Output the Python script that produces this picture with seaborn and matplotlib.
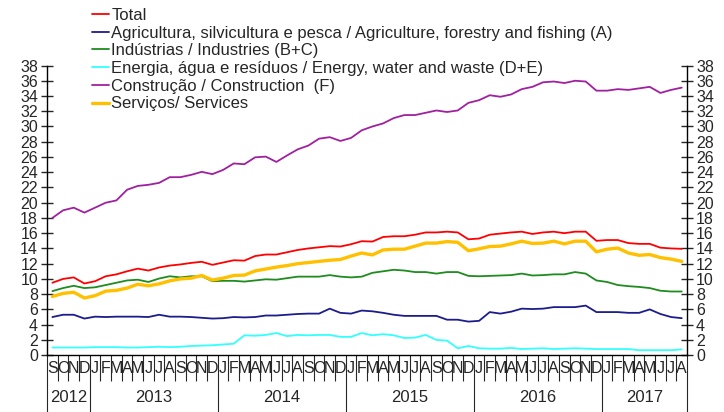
import matplotlib
matplotlib.use("Agg")
import matplotlib.pyplot as plt
import matplotlib.transforms as mtransforms
import numpy as np
import pandas as pd
import seaborn as sns

# monthly series, Sep 2012 .. Aug 2017
month_letters = list("SOND") + list("JFMAMJJASOND") * 4 + list("JFMAMJJA")
years = ["2012", "2013", "2014", "2015", "2016", "2017"]
months_per_year = [4, 12, 12, 12, 12, 8]

total = [9.5, 10.0, 10.2, 9.4, 9.7, 10.35, 10.6, 11.0, 11.35, 11.1, 11.5, 11.75,
         11.9, 12.1, 12.25, 11.85, 12.15, 12.45, 12.4, 13.0, 13.2, 13.2, 13.5, 13.8,
         14.0, 14.15, 14.3, 14.25, 14.55, 14.95, 14.9, 15.5, 15.6, 15.6, 15.8, 16.1,
         16.1, 16.2, 16.1, 15.2, 15.3, 15.8, 15.95, 16.1, 16.2, 15.9, 16.1, 16.2,
         16.0, 16.2, 16.2, 15.0, 15.1, 15.1, 14.7, 14.6, 14.6, 14.1, 14.0, 13.95]
agriculture = [5.0, 5.3, 5.3, 4.8, 5.05, 5.0, 5.05, 5.05, 5.05, 5.0, 5.3, 5.05,
               5.05, 5.0, 4.9, 4.8, 4.85, 5.0, 4.95, 5.0, 5.2, 5.2, 5.3, 5.4,
               5.45, 5.45, 6.1, 5.55, 5.45, 5.85, 5.75, 5.55, 5.3, 5.15, 5.15, 5.15,
               5.15, 4.65, 4.65, 4.4, 4.5, 5.65, 5.45, 5.7, 6.1, 6.05, 6.1, 6.3,
               6.3, 6.3, 6.5, 5.65, 5.65, 5.65, 5.55, 5.55, 6.0, 5.4, 5.0, 4.85]
industries = [8.4, 8.8, 9.1, 8.8, 8.9, 9.2, 9.5, 9.8, 9.9, 9.6, 10.05, 10.35,
              10.2, 10.35, 10.35, 9.7, 9.75, 9.75, 9.65, 9.8, 9.95, 9.9, 10.1, 10.3,
              10.3, 10.3, 10.5, 10.3, 10.2, 10.3, 10.8, 11.0, 11.2, 11.1, 10.9, 10.9,
              10.7, 10.9, 10.9, 10.4, 10.35, 10.4, 10.45, 10.5, 10.7, 10.45, 10.5, 10.6,
              10.6, 10.9, 10.7, 9.8, 9.6, 9.2, 9.05, 8.95, 8.8, 8.45, 8.35, 8.35]
energy = [1.0, 1.0, 1.0, 1.0, 1.05, 1.05, 1.05, 1.0, 1.0, 1.05, 1.1, 1.05,
          1.1, 1.2, 1.25, 1.3, 1.4, 1.5, 2.6, 2.55, 2.65, 2.9, 2.5, 2.65,
          2.6, 2.65, 2.65, 2.4, 2.4, 2.9, 2.6, 2.75, 2.6, 2.25, 2.3, 2.65,
          2.0, 1.9, 0.9, 1.2, 0.9, 0.85, 0.85, 0.95, 0.8, 0.85, 0.9, 0.8,
          0.85, 0.9, 0.85, 0.8, 0.8, 0.8, 0.8, 0.65, 0.65, 0.65, 0.65, 0.75]
construction = [18.0, 19.0, 19.35, 18.7, 19.35, 20.0, 20.3, 21.7, 22.2, 22.35, 22.6, 23.35,
                23.35, 23.65, 24.05, 23.75, 24.3, 25.15, 25.05, 25.95, 26.05, 25.35, 26.2, 27.0,
                27.5, 28.4, 28.6, 28.1, 28.5, 29.5, 30.0, 30.4, 31.1, 31.5, 31.5, 31.8,
                32.1, 31.9, 32.1, 33.1, 33.45, 34.1, 33.9, 34.2, 34.9, 35.2, 35.8, 35.9,
                35.7, 36.0, 35.9, 34.7, 34.7, 34.9, 34.8, 35.0, 35.2, 34.4, 34.8, 35.1]
services = [7.7, 8.1, 8.25, 7.5, 7.8, 8.4, 8.5, 8.8, 9.3, 9.1, 9.35, 9.75,
            10.0, 10.1, 10.45, 9.85, 10.1, 10.45, 10.5, 11.05, 11.3, 11.55, 11.75, 12.0,
            12.15, 12.3, 12.45, 12.55, 13.0, 13.4, 13.15, 13.8, 13.9, 13.9, 14.3, 14.7,
            14.7, 14.9, 14.8, 13.7, 13.95, 14.25, 14.3, 14.6, 14.95, 14.65, 14.7, 14.95,
            14.6, 14.95, 14.95, 13.55, 13.9, 14.05, 13.4, 13.1, 13.2, 12.8, 12.6, 12.3]

labels = [
    "Total",
    "Agricultura, silvicultura e pesca / Agriculture, forestry and fishing (A)",
    "Indústrias / Industries (B+C)",
    "Energia, água e resíduos / Energy, water and waste (D+E)",
    "Construção / Construction  (F)",
    "Serviços/ Services",
]
values = [total, agriculture, industries, energy, construction, services]
colors = ["#ff0000", "#1c1c8c", "#1e8c1e", "#33ffff", "#a0209f", "#ffc000"]
widths = [1.3, 1.3, 1.3, 1.3, 1.3, 2.4]

df = pd.DataFrame(dict(zip(labels, values)))
df["month"] = np.arange(len(df))
long_df = df.melt(id_vars="month", var_name="sector", value_name="rate")

sns.set_style("ticks")
plt.rcParams["font.family"] = ["Liberation Sans", "DejaVu Sans"]

fig = plt.figure(figsize=(7.24, 4.12), dpi=100)
ax = fig.add_axes([0.065, 0.138, 0.884, 0.703])

for name, col, lw in zip(labels, colors, widths):
    sns.lineplot(data=long_df[long_df.sector == name], x="month", y="rate",
                 color=col, lw=lw, label=name, ax=ax)

ax.set_xlim(-0.5, len(month_letters) - 0.5)
ax.set_ylim(0, 38)
ax.set_xlabel("")
ax.set_ylabel("")

sns.despine(ax=ax, top=True, right=False)
for s in ["left", "right", "bottom"]:
    ax.spines[s].set_linewidth(1.0)
    ax.spines[s].set_color("black")

# y axis: cross ticks on both sides
ax.set_yticks(np.arange(0, 39, 2))
ax.tick_params(axis="y", direction="inout", length=9, width=1,
               left=True, right=True, labelleft=True, labelright=True,
               labelsize=11.5, pad=2)

# x axis: month separators and long year separators
bounds = np.cumsum([0] + months_per_year) - 0.5
ax.set_xticks(bounds)
ax.set_xticks(np.arange(-0.5, len(month_letters), 1), minor=True)
ax.set_xticklabels([])
ax.tick_params(axis="x", which="minor", direction="out", length=19, width=0.8)
ax.tick_params(axis="x", which="major", direction="out", length=45, width=0.8)

trans = mtransforms.blended_transform_factory(ax.transData, ax.transAxes)
for i, m in enumerate(month_letters):
    ax.text(i, -0.045, m, transform=trans, ha="center", va="center", fontsize=11.5)
for k, yr in enumerate(years):
    mid = (bounds[k] + bounds[k + 1]) / 2
    ax.text(mid, -0.145, yr, transform=trans, ha="center", va="center", fontsize=12)

ax.legend(loc="upper left", bbox_to_anchor=(92 / 724, 1 - 8 / 412),
          bbox_transform=fig.transFigure, frameon=False, fontsize=12,
          handlelength=1.0, handletextpad=0.15, labelspacing=0.16,
          borderpad=0, borderaxespad=0)

fig.savefig("out.png", dpi=100)
